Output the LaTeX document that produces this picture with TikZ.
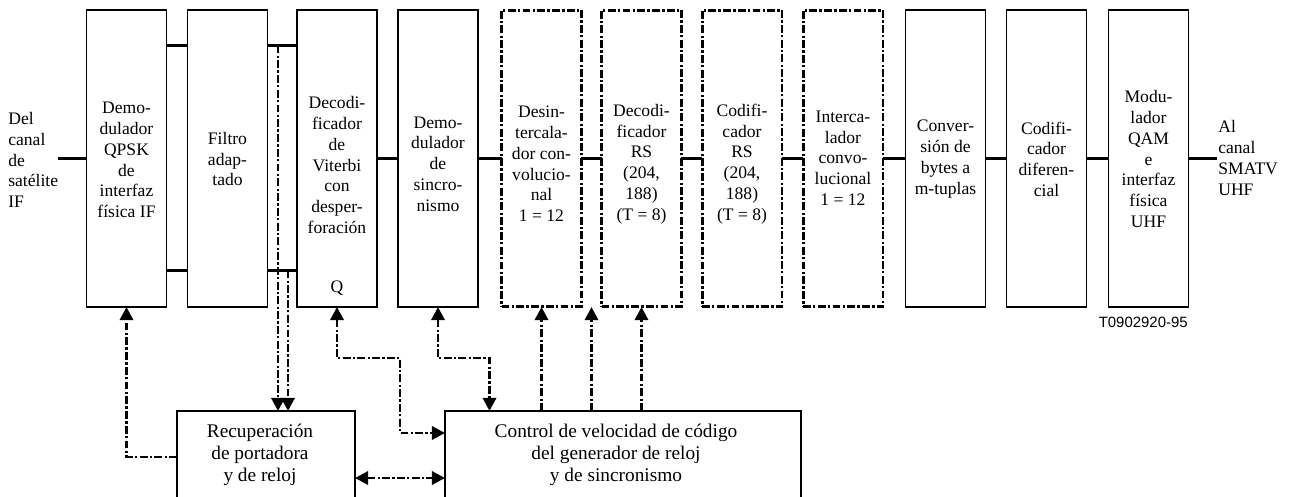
\documentclass[tikz,border=0pt]{standalone}
\usepackage{fontspec}
\setmainfont{Liberation Serif}
\newfontfamily\lsans{Liberation Sans}
\usetikzlibrary{arrows.meta}
\begin{document}
\begin{tikzpicture}[x=0.02cm,y=-0.02cm,
  box/.style={draw, line width=1pt, minimum width=1.6cm, minimum height=5.94cm, inner sep=0pt, outer sep=0pt},
  dbox/.style={box, line width=1.7pt, dash pattern=on 4.5pt off 1.3pt on 1.3pt off 1.3pt},
  bbox/.style={draw, line width=1pt, minimum height=1.84cm, inner sep=0pt, outer sep=0pt},
  txt/.style={align=center, font={\fontsize{10}{11.8}\selectfont}, inner sep=0pt},
  btxt/.style={align=center, font={\fontsize{11}{12.6}\selectfont}, inner sep=0pt},
  sig/.style={line width=1.6pt},
  ctl/.style={line width=1.7pt, dash pattern=on 4.5pt off 1.3pt on 1.3pt off 1.3pt},
  tip/.style={-{Triangle[length=7.5pt,width=7.5pt]}},
  dtip/.style={{Triangle[length=7.5pt,width=7.5pt]}-{Triangle[length=7.5pt,width=7.5pt]}}
]
\useasboundingbox (0,0) rectangle (1292,497);
\clip (0,0) rectangle (1292,497);

% top boxes
\node[box]  (b1)  at (126.5,158.5) {};
\node[box]  (b2)  at (227.5,158.5) {};
\node[box]  (b3)  at (337,158.5) {};
\node[box]  (b4)  at (438,158.5) {};
\node[dbox] (b5)  at (541.5,158.5) {};
\node[dbox] (b6)  at (641.5,158.5) {};
\node[dbox] (b7)  at (742,158.5) {};
\node[dbox] (b8)  at (843,158.5) {};
\node[box]  (b9)  at (945.5,158.5) {};
\node[box]  (b10) at (1046.5,158.5) {};
\node[box]  (b11) at (1148.5,158.5) {};

% texts
\node[txt] (t1)  at (126.5,160) {Demo-\\dulador\\QPSK\\de\\interfaz\\física IF};
\node[txt] (t2)  at (227.5,159) {Filtro\\adap-\\tado};
\node[txt] (t3)  at (337,165) {Decodi-\\ficador\\de\\Viterbi\\con\\desper-\\foración};
\node[txt] (q3)  at (337,288) {Q};
\node[txt] (t4)  at (438,164) {Demo-\\dulador\\de\\sincro-\\nismo};
\node[txt] (t5)  at (541.5,164) {Desin-\\tercala-\\dor con-\\volucio-\\nal\\1 = 12};
\node[txt] (t6)  at (641.5,164) {Decodi-\\ficador\\RS\\(204,\\188)\\(T = 8)};
\node[txt] (t7)  at (742,164) {Codifi-\\cador\\RS\\(204,\\188)\\(T = 8)};
\node[txt] (t8)  at (843,158) {Interca-\\lador\\convo-\\lucional\\1 = 12};
\node[txt] (t9)  at (945.5,159) {Conver-\\sión de\\bytes a\\m-tuplas};
\node[txt] (t10) at (1046.5,159) {Codifi-\\cador\\diferen-\\cial};
\node[txt] (t11) at (1148.5,159) {Modu-\\lador\\QAM\\e\\interfaz\\física\\UHF};

\node[txt, align=left, anchor=west] (src) at (8,160) {Del\\canal\\de\\satélite\\IF};
\node[txt, align=left, anchor=west] (dst) at (1218,158) {Al\\canal\\SMATV\\UHF};
\node[anchor=east, inner sep=0pt, font={\lsans\fontsize{8.5}{10}\selectfont}] (code) at (1188,322) {T0902920-95};

% bottom boxes
\node[bbox, minimum width=3.56cm] (rec)  at (266,457) {};
\node[bbox, minimum width=7.12cm] (ctrl) at (623,457) {};
\node[btxt] (trec)  at (260,455) {Recuperación\\de portadora\\y de reloj};
\node[btxt] (tctrl) at (616,455) {Control de velocidad de código\\del generador de reloj\\y de sincronismo};

% coordinates
\coordinate (in)  at (58,158.5);
\coordinate (out) at (1217,158.5);
\coordinate (rt)  at (0,45.5);
\coordinate (rb)  at (0,270.5);
\coordinate (tapA) at (278,45.5);
\coordinate (tapB) at (288,270.5);
\coordinate (y433) at (0,433);
\coordinate (y478) at (0,478);
\coordinate (j3) at (400,358);
\coordinate (j4) at (489.5,358);
\coordinate (gap) at (591.5,307);

% signal path
\draw[sig] (in) -- (b1.west);
\draw[sig] (b1.east |- rt) -- (b2.west |- rt);
\draw[sig] (b1.east |- rb) -- (b2.west |- rb);
\draw[sig] (b2.east |- rt) -- (b3.west |- rt);
\draw[sig] (b2.east |- rb) -- (b3.west |- rb);
\draw[sig] (b3.east) -- (b4.west);
\draw[sig] (b4.east) -- (b5.west);
\draw[sig] (b5.east) -- (b6.west);
\draw[sig] (b6.east) -- (b7.west);
\draw[sig] (b7.east) -- (b8.west);
\draw[sig] (b8.east) -- (b9.west);
\draw[sig] (b9.east) -- (b10.west);
\draw[sig] (b10.east) -- (b11.west);
\draw[sig] (b11.east) -- (out);

% control paths
\draw[ctl,tip] (tapA) -- (tapA |- rec.north);
\draw[ctl,tip] (tapB) -- (tapB |- rec.north);
\draw[ctl,tip] (rec.west) -| (b1.south);
\draw[ctl,dtip] (b3.south) |- (j3) |- (ctrl.west |- y433);
\draw[ctl,dtip] (b4.south) |- (j4) -- (j4 |- ctrl.north);
\draw[ctl,tip] (b5.south |- ctrl.north) -- (b5.south);
\draw[ctl,tip] (gap |- ctrl.north) -- (gap);
\draw[ctl,tip] (b6.south |- ctrl.north) -- (b6.south);
\draw[ctl,dtip] (rec.east |- y478) -- (ctrl.west |- y478);
\end{tikzpicture}
\end{document}
